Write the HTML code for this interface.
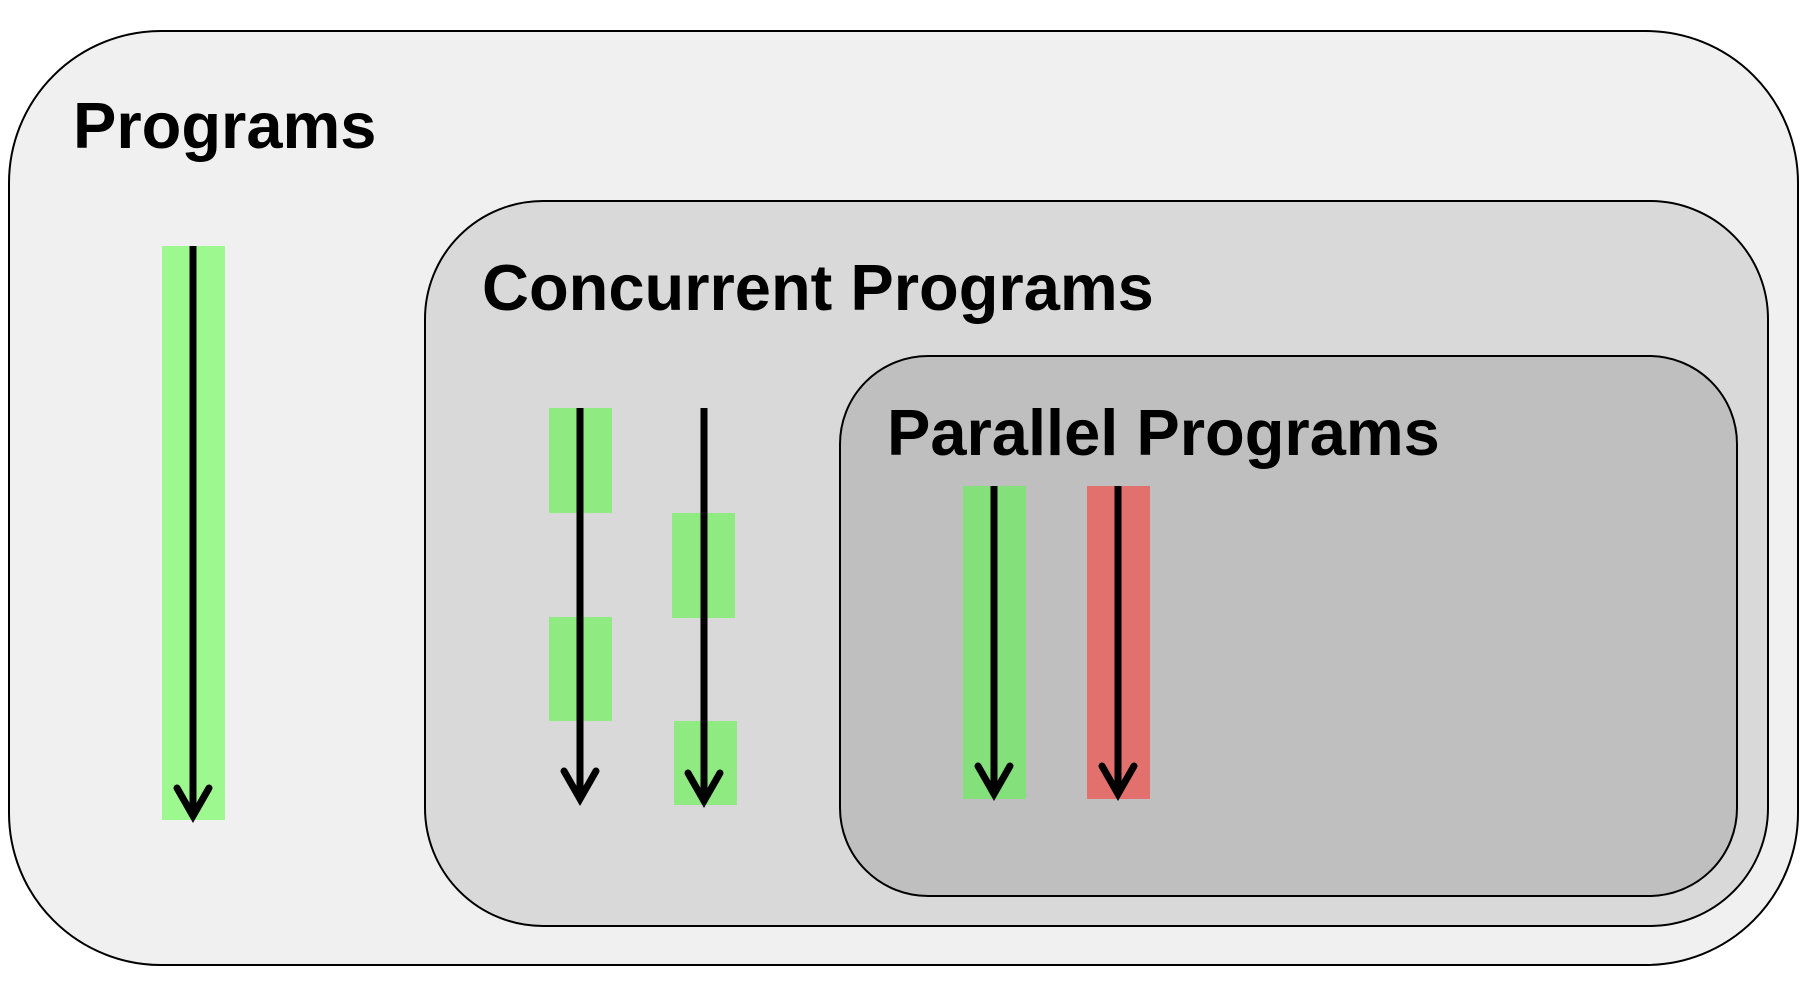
<!DOCTYPE html>
<html><head><meta charset="utf-8"><style>
html,body{margin:0;padding:0;background:#fff;width:1816px;height:986px;overflow:hidden}
svg{display:block}
text{font-family:"Liberation Sans",Arial,sans-serif;font-weight:bold;fill:#000}
</style></head><body>
<svg id="d" width="1816" height="986" viewBox="0 0 1816 986">
<rect x="9" y="31" width="1789" height="934" rx="152" ry="152" fill="#f0f0f0" stroke="#000" stroke-width="2"/>
<text x="73" y="148" font-size="65">Programs</text>
<rect x="425" y="201" width="1343" height="725" rx="118" ry="118" fill="#d9d9d9" stroke="#000" stroke-width="2"/>
<text x="482" y="310" font-size="65">Concurrent Programs</text>
<rect x="840" y="356" width="897" height="540" rx="88" ry="88" fill="#bfbfbf" stroke="#000" stroke-width="2"/>
<text x="887" y="455" font-size="65">Parallel Programs</text>
<g id="marks"></g>
</svg>
<script>
// execution blocks: [x, yTop, yBottom, color]
const blockX = [162, 549, 549, 672, 674, 963, 1087];
const blockTop = [246, 408, 617, 513, 721, 486, 486];
const blockBottom = [820, 513, 721, 618, 805, 799, 799];
const blockColor = ["#9ef890","#90ea82","#90ea82","#90ea82","#90ea82","#84e07a","#e2716e"];
const blockW = 63;
// threads (arrows): x, start y, end y
const arrowX = [193, 580, 704, 994, 1118];
const arrowStart = [246, 408, 408, 486, 486];
const arrowEnd = [818, 801, 803, 796, 796];
const ns = "http://www.w3.org/2000/svg";
const g = document.getElementById('marks');
for (let i = 0; i < blockX.length; i++) {
  const r = document.createElementNS(ns, 'rect');
  r.setAttribute('x', blockX[i]); r.setAttribute('y', blockTop[i]);
  r.setAttribute('width', blockW); r.setAttribute('height', blockBottom[i] - blockTop[i]);
  r.setAttribute('fill', blockColor[i]);
  
  
  g.appendChild(r);
}
for (let i = 0; i < arrowX.length; i++) {
  const x = arrowX[i], y0 = arrowStart[i], y1 = arrowEnd[i];
  const grp = document.createElementNS(ns, 'g');
  
  
  const l = document.createElementNS(ns, 'line');
  l.setAttribute('x1', x); l.setAttribute('y1', y0);
  l.setAttribute('x2', x); l.setAttribute('y2', y1 - 6);
  l.setAttribute('stroke', '#000'); l.setAttribute('stroke-width', '7');
  grp.appendChild(l);
  const p = document.createElementNS(ns, 'polyline');
  p.setAttribute('points', (x-16)+','+(y1-30)+' '+x+','+(y1-2)+' '+(x+16)+','+(y1-30));
  p.setAttribute('fill', 'none'); p.setAttribute('stroke', '#000');
  p.setAttribute('stroke-width', '7'); p.setAttribute('stroke-linecap', 'round');
  p.setAttribute('stroke-linejoin', 'miter');
  grp.appendChild(p);
  g.appendChild(grp);
}
</script>
</body></html>
